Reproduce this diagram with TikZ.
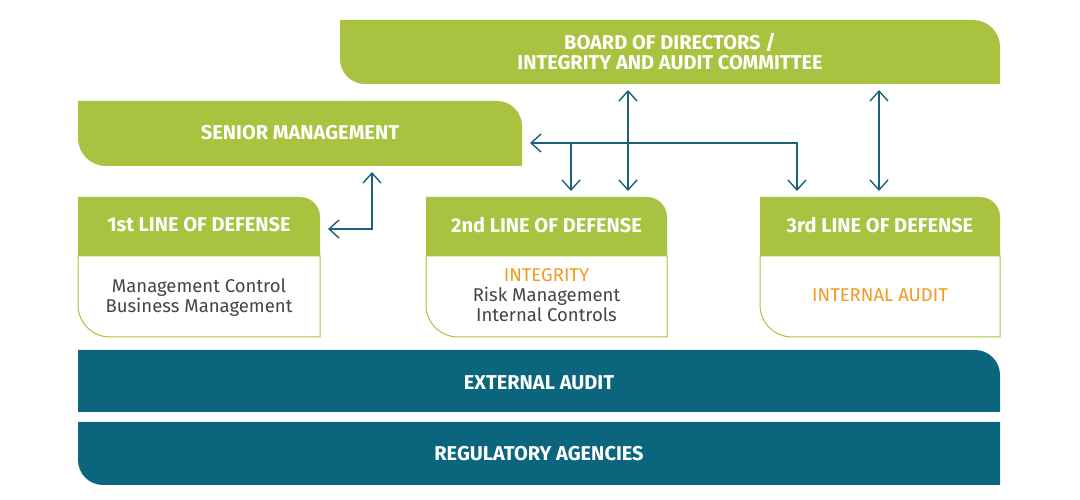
\documentclass[tikz,border=0pt]{standalone}
\usepackage{fontspec}
\setmainfont{Fira Sans}
\usetikzlibrary{arrows.meta}
\definecolor{lgreen}{HTML}{A9C23F}
\definecolor{dteal}{HTML}{0B657D}
\definecolor{arrowc}{HTML}{1C6079}
\definecolor{orng}{HTML}{F29A1F}
\definecolor{txtg}{HTML}{454545}
\tikzset{
  greenfill/.style={fill=lgreen},
  tealfill/.style={fill=dteal},
  bodybox/.style={fill=white,draw=lgreen,line width=1pt},
  headtxt/.style={text=white,font=\fontsize{20}{20}\selectfont\bfseries,align=center,inner sep=0},
  bodytxt/.style={text=txtg,font=\fontsize{18.5}{20}\selectfont,align=center,inner sep=0},
  conn/.style={draw=arrowc,line width=1.4pt},
  tip/.tip={Straight Barb[length=10pt,width=18pt]}
}
\begin{document}
\begin{tikzpicture}[x=1pt,y=1pt]
\useasboundingbox (0,0) rectangle (1080,500);
% Board
\path[greenfill] (340,480) -- (973,480) arc[start angle=90,end angle=0,radius=27] -- (1000,416) -- (365,416) arc[start angle=270,end angle=180,radius=25] -- cycle;
\node[headtxt] (board) at (670,448) {BOARD OF DIRECTORS /\\INTEGRITY AND AUDIT COMMITTEE};
% Senior management
\path[greenfill] (78,399) -- (497,399) arc[start angle=90,end angle=0,radius=25] -- (522,334) -- (106,334) arc[start angle=270,end angle=180,radius=28] -- cycle;
\node[headtxt] (senior) at (300,367) {SENIOR MANAGEMENT};
% Lines of defense
\foreach \xa/\xb/\nm in {78/320/one,426/667/two,760/1000/three}{
  \path[bodybox] (\xa,244) -- (\xb,244) -- (\xb,163) -- (\xa+32,163) arc[start angle=270,end angle=180,radius=32] -- cycle;
  \path[greenfill] (\xa,303) -- (\xb-20,303) arc[start angle=90,end angle=0,radius=20] -- (\xb,244) -- (\xa,244) -- cycle;
}
\node[headtxt] (h1) at (199,275) {1st LINE OF DEFENSE};
\node[headtxt] (h2) at (546.5,275) {2nd LINE OF DEFENSE};
\node[headtxt] (h3) at (880,275) {3rd LINE OF DEFENSE};
\node[bodytxt] (b1) at (199,202) {Management Control\\Business Management};
\node[bodytxt] (b2) at (546.5,205) {\textcolor{orng}{INTEGRITY}\\Risk Management\\Internal Controls};
\node[bodytxt,text=orng] (b3) at (880,205) {INTERNAL AUDIT};
% External audit
\path[tealfill] (78,150) -- (975,150) arc[start angle=90,end angle=0,radius=25] -- (1000,88) -- (78,88) -- cycle;
\node[headtxt] (ext) at (539,117) {EXTERNAL AUDIT};
% Regulatory
\path[tealfill] (78,78) -- (1000,78) -- (1000,15) -- (103,15) arc[start angle=270,end angle=180,radius=25] -- cycle;
\node[headtxt] (reg) at (539,46) {REGULATORY AGENCIES};
% connector coordinates
\coordinate (smR) at (530,357);
\coordinate (jn) at (571,357);
\coordinate (cR) at (797,357);
\coordinate (d2) at (571,309);
\coordinate (d3) at (797,309);
\coordinate (bA) at (628,410);
\coordinate (bAd) at (628,309);
\coordinate (bB) at (879,410);
\coordinate (bBd) at (879,309);
\coordinate (smB) at (372,328);
\coordinate (c1) at (372,271);
\coordinate (l1) at (328,271);
% connectors
\draw[conn,tip-tip] (smR) -- (cR) -- (d3);
\draw[conn,-tip] (jn) -- (d2);
\draw[conn,tip-tip] (bA) -- (bAd);
\draw[conn,tip-tip] (bB) -- (bBd);
\draw[conn,tip-tip] (smB) -- (c1) -- (l1);
\end{tikzpicture}
\end{document}
